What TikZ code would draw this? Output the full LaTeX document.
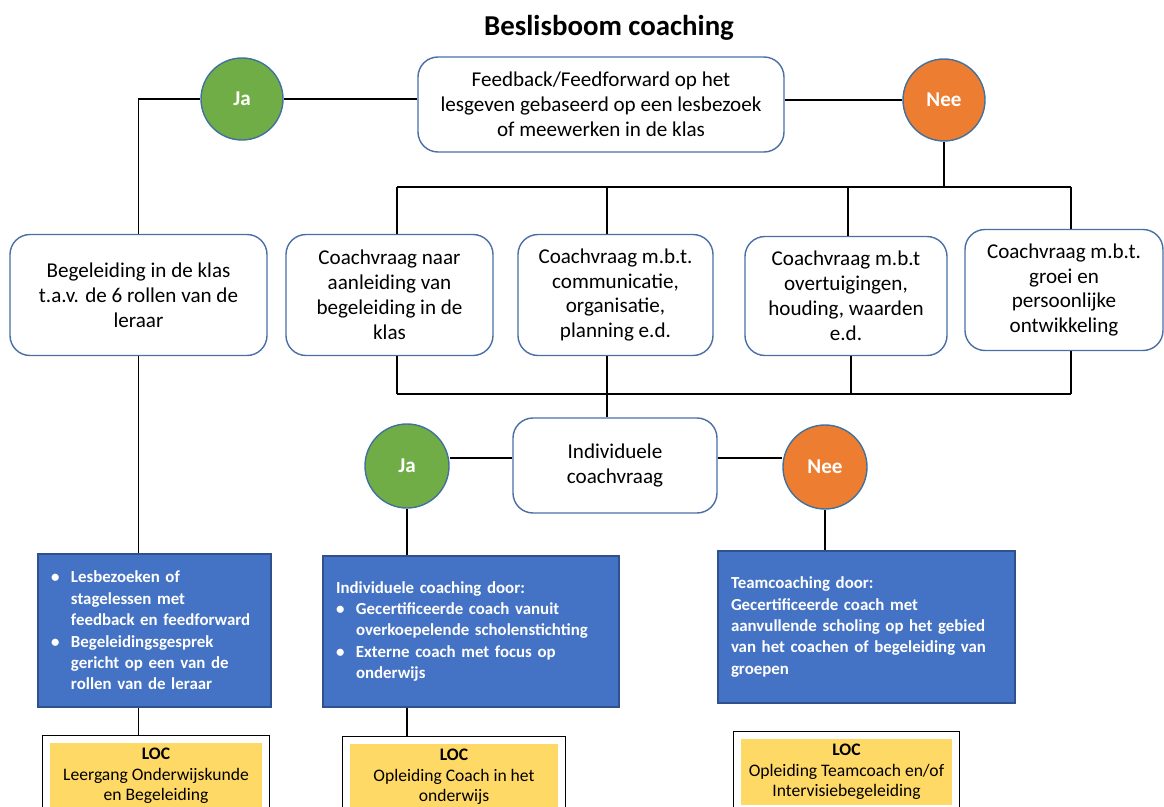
\documentclass[tikz,border=0pt]{standalone}
\usepackage{fontspec}
\setmainfont{Carlito}
\usepackage{xcolor}
\usepackage{tikz}
\usetikzlibrary{positioning, fit}

\definecolor{jagreen}{HTML}{70AD47}
\definecolor{neeorange}{HTML}{ED7D31}
\definecolor{rimblue}{HTML}{41719C}
\definecolor{boxrim}{HTML}{4A6FA5}
\definecolor{routeblue}{HTML}{4472C4}
\definecolor{routerim}{HTML}{2F528F}
\definecolor{locyellow}{HTML}{FFD966}

\newcommand{\itemdot}{\makebox[0.4cm][l]{\textbullet}}
\newcommand{\itemgap}{\hspace*{0.4cm}}

\begin{document}
\begin{tikzpicture}[
    question/.style={rectangle, draw=boxrim, line width=0.8pt, fill=white, rounded corners=0.4cm, align=center, inner sep=2pt, font=\fontsize{12}{14.2}\selectfont},
    janode/.style={circle, draw=rimblue, line width=0.8pt, fill=jagreen, text=white, minimum size=1.64cm, inner sep=0pt, font=\fontsize{12}{14}\selectfont\bfseries},
    neenode/.style={janode, fill=neeorange},
    route/.style={rectangle, draw=routerim, line width=0.6pt, fill=routeblue, text=white, align=left, inner xsep=0.26cm, font=\fontsize{9.6}{12.2}\selectfont\bfseries},
    loc/.style={rectangle, fill=locyellow, align=center, minimum height=1.32cm, inner sep=0pt, font=\fontsize{10}{11.8}\selectfont},
    locframe/.style={rectangle, draw=black, line width=0.8pt, inner sep=0.14cm},
    link/.style={draw=black, line width=0.8pt}
]
\useasboundingbox (0,0) rectangle (23.28,-16.14);
\clip (0,0) rectangle (23.28,-16.14);

% titel
\node[font=\fontsize{16.4}{20}\selectfont\bfseries] (title) at (12.18,-0.55) {Beslisboom coaching};

% eerste vraag
\node[question, minimum width=7.32cm, minimum height=1.9cm] (topq) at (12.02,-2.09) {Feedback/Feedforward op het\\lesgeven gebaseerd op een lesbezoek\\of meewerken in de klas};
\node[janode] (ja1) at (4.84,-1.98) {Ja};
\node[neenode] (nee1) at (18.88,-2.0) {Nee};

% coachvragen
\node[question, minimum width=5.14cm, minimum height=2.42cm] (box1) at (2.77,-5.9) {Begeleiding in de klas\\t.a.v. de 6 rollen van de\\leraar};
\node[question, minimum width=4.14cm, minimum height=2.42cm] (box2) at (7.79,-5.9) {Coachvraag naar\\aanleiding van\\begeleiding in de\\klas};
\node[question, minimum width=3.9cm, minimum height=2.42cm] (box3) at (12.31,-5.9) {Coachvraag m.b.t.\\communicatie,\\organisatie,\\planning e.d.};
\node[question, minimum width=4.04cm, minimum height=2.38cm] (box4) at (16.92,-5.92) {Coachvraag m.b.t\\overtuigingen,\\houding, waarden\\e.d.};
\node[question, minimum width=3.96cm, minimum height=2.42cm] (box5) at (21.28,-5.8) {Coachvraag m.b.t.\\groei en\\persoonlijke\\ontwikkeling};

% tweede vraag
\node[question, minimum width=4.08cm, minimum height=1.9cm] (ind) at (12.3,-9.31) {Individuele\\coachvraag};
\node[janode, minimum size=1.68cm] (ja2) at (8.14,-9.32) {Ja};
\node[neenode, minimum size=1.68cm] (nee2) at (16.5,-9.34) {Nee};

% begeleidingsvormen
\node[route, text width=4.14cm, minimum height=3.06cm] (blue1) at (3.09,-12.61) {\itemdot Lesbezoeken of\\\itemgap stagelessen met\\\itemgap feedback en feedforward\\\itemdot Begeleidingsgesprek\\\itemgap gericht op een van de\\\itemgap rollen van de leraar};
\node[route, text width=5.4cm, minimum height=3.02cm] (blue2) at (9.42,-12.63) {Individuele coaching door:\\\itemdot Gecertificeerde coach vanuit\\\itemgap overkoepelende scholenstichting\\\itemdot Externe coach met focus op\\\itemgap onderwijs};
\node[route, text width=5.42cm, minimum height=3.04cm] (blue3) at (17.33,-12.54) {Teamcoaching door:\\Gecertificeerde coach met\\aanvullende scholing op het gebied\\van het coachen of begeleiding van\\groepen};

% LOC opleidingen
\node[loc, minimum width=4.24cm] (loc1) at (3.12,-15.52) {\textbf{LOC}\\Leergang Onderwijskunde\\en Begeleiding};
\node[loc, minimum width=4.16cm] (loc2) at (9.08,-15.54) {\textbf{LOC}\\Opleiding Coach in het\\onderwijs};
\node[loc, minimum width=4.22cm] (loc3) at (16.93,-15.44) {\textbf{LOC}\\Opleiding Teamcoach en/of\\Intervisiebegeleiding};
\node[locframe, fit=(loc1)] (frame1) {};
\node[locframe, fit=(loc2)] (frame2) {};
\node[locframe, fit=(loc3)] (frame3) {};

% verdeelpunten
\coordinate (tl) at (7.94,-3.74);
\coordinate (t3) at (12.14,-3.74);
\coordinate (t4) at (16.96,-3.74);
\coordinate (tr) at (21.42,-3.74);
\coordinate (bl) at (7.94,-7.88);
\coordinate (b3) at (12.14,-7.88);
\coordinate (b4) at (17.02,-7.88);
\coordinate (br) at (21.42,-7.88);

% verbindingen
\draw[link] (ja1) -- (ja1 -| topq.west);
\draw[link] (nee1) -- (nee1 -| topq.east);
\draw[link] (box1.north) |- (ja1);
\draw[link] (nee1) -- (nee1 |- tl);
\draw[link] (tl) -- (tr);
\draw[link] (tl) -- (tl |- box2.north);
\draw[link] (t3) -- (t3 |- box3.north);
\draw[link] (t4) -- (t4 |- box4.north);
\draw[link] (tr) -- (tr |- box5.north);

\draw[link] (bl |- box2.south) -- (bl);
\draw[link] (b3 |- box3.south) -- (b3);
\draw[link] (b4 |- box4.south) -- (b4);
\draw[link] (br |- box5.south) -- (br);
\draw[link] (bl) -- (br);
\draw[link] (b3) -- (b3 |- ind.north);

\draw[link] ([yshift=0.15cm]ind.west) -- ([yshift=0.15cm]ind.west -| ja2.east);
\draw[link] ([yshift=0.15cm]ind.east) -- ([yshift=0.15cm]ind.east -| nee2.west);
\draw[link] (ja2) -- (ja2 |- blue2.north);
\draw[link] (nee2) -- (nee2 |- blue3.north);
\draw[link] (box1) -- (box1 |- blue1.north);

\draw[link] (box1 |- blue1.south) -- (box1 |- frame1.north);
\draw[link] (ja2 |- blue2.south) -- (ja2 |- frame2.north);

\end{tikzpicture}
\end{document}
